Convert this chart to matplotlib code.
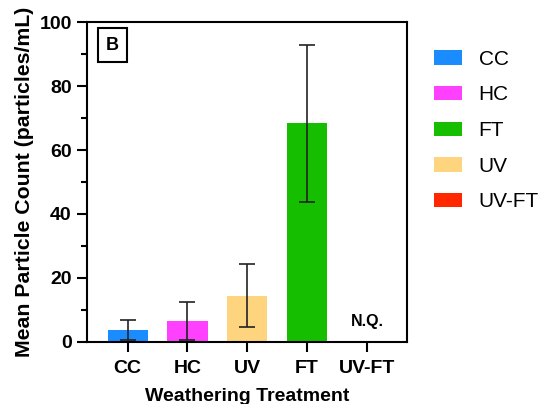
import numpy as np
import matplotlib
matplotlib.use('Agg')
import matplotlib.pyplot as plt
from matplotlib.patches import Patch

# Datos
tratamientos = ['CC', 'HC', 'UV', 'FT', 'UV-FT']
medias = [3.7, 6.5, 14.5, 68.3, 0.0]
desv = [3.1, 6.0, 9.9, 24.4, 0.0]
colores = {'CC': '#1A8CFF', 'HC': '#FF40FF', 'FT': '#16BE00',
           'UV': '#FFD47F', 'UV-FT': '#FF2600'}
orden_leyenda = ['CC', 'HC', 'FT', 'UV', 'UV-FT']
sin_cuantificar = ['UV-FT']

plt.rcParams['font.family'] = ['Liberation Sans', 'DejaVu Sans']

fig = plt.figure(figsize=(5.38, 4.04), dpi=100)
ax = fig.add_axes([0.1617, 0.1535, 0.5948, 0.792])

x = np.arange(len(tratamientos))
ax.bar(x, medias, width=0.67, color=[colores[t] for t in tratamientos],
       edgecolor='none', zorder=2)
idx = [i for i, t in enumerate(tratamientos) if t not in sin_cuantificar]
ax.errorbar(x[idx], np.array(medias)[idx], yerr=np.array(desv)[idx], fmt='none',
            ecolor='#222222', elinewidth=1.2, capsize=6, capthick=1.2, zorder=3)

for t in sin_cuantificar:
    i = tratamientos.index(t)
    ax.text(x[i], 4.2, 'N.Q.', ha='center', va='bottom', fontsize=11.5,
            fontweight='bold')

ax.set_xlim(-0.68, 4.67)
ax.set_ylim(0, 100)
ax.set_yticks([0, 20, 40, 60, 80, 100])
ax.set_yticks([10, 30, 50, 70, 90], minor=True)
ax.set_xticks(x)
ax.set_xticklabels(tratamientos, fontweight='bold', fontsize=14)
for lab in ax.get_yticklabels():
    lab.set_fontweight('bold')
    lab.set_fontsize(14)
for s in ax.spines.values():
    s.set_linewidth(1.5)
ax.tick_params(axis='both', which='major', length=7, width=1.5, pad=4)
ax.tick_params(axis='y', which='minor', length=4, width=1.5)
ax.tick_params(axis='x', pad=6)

ax.set_ylabel('Mean Particle Count (particles/mL)', fontsize=15.3,
              fontweight='bold', labelpad=4)
ax.set_xlabel('Weathering Treatment', fontsize=14, fontweight='bold',
              labelpad=8)

ax.text(0.08, 0.928, 'B', transform=ax.transAxes, ha='center', va='center',
        fontsize=13, fontweight='bold',
        bbox=dict(boxstyle='square,pad=0.45', facecolor='white',
                  edgecolor='black', linewidth=1.5))

handles = [Patch(facecolor=colores[t], edgecolor='none', label=t)
           for t in orden_leyenda]
fig.legend(handles=handles, loc='upper left', bbox_to_anchor=(0.807, 0.877),
           frameon=False, fontsize=15, handlelength=1.35, handleheight=0.68,
           handletextpad=0.78, labelspacing=0.8, borderpad=0, borderaxespad=0)

fig.savefig('out.png', dpi=100)
